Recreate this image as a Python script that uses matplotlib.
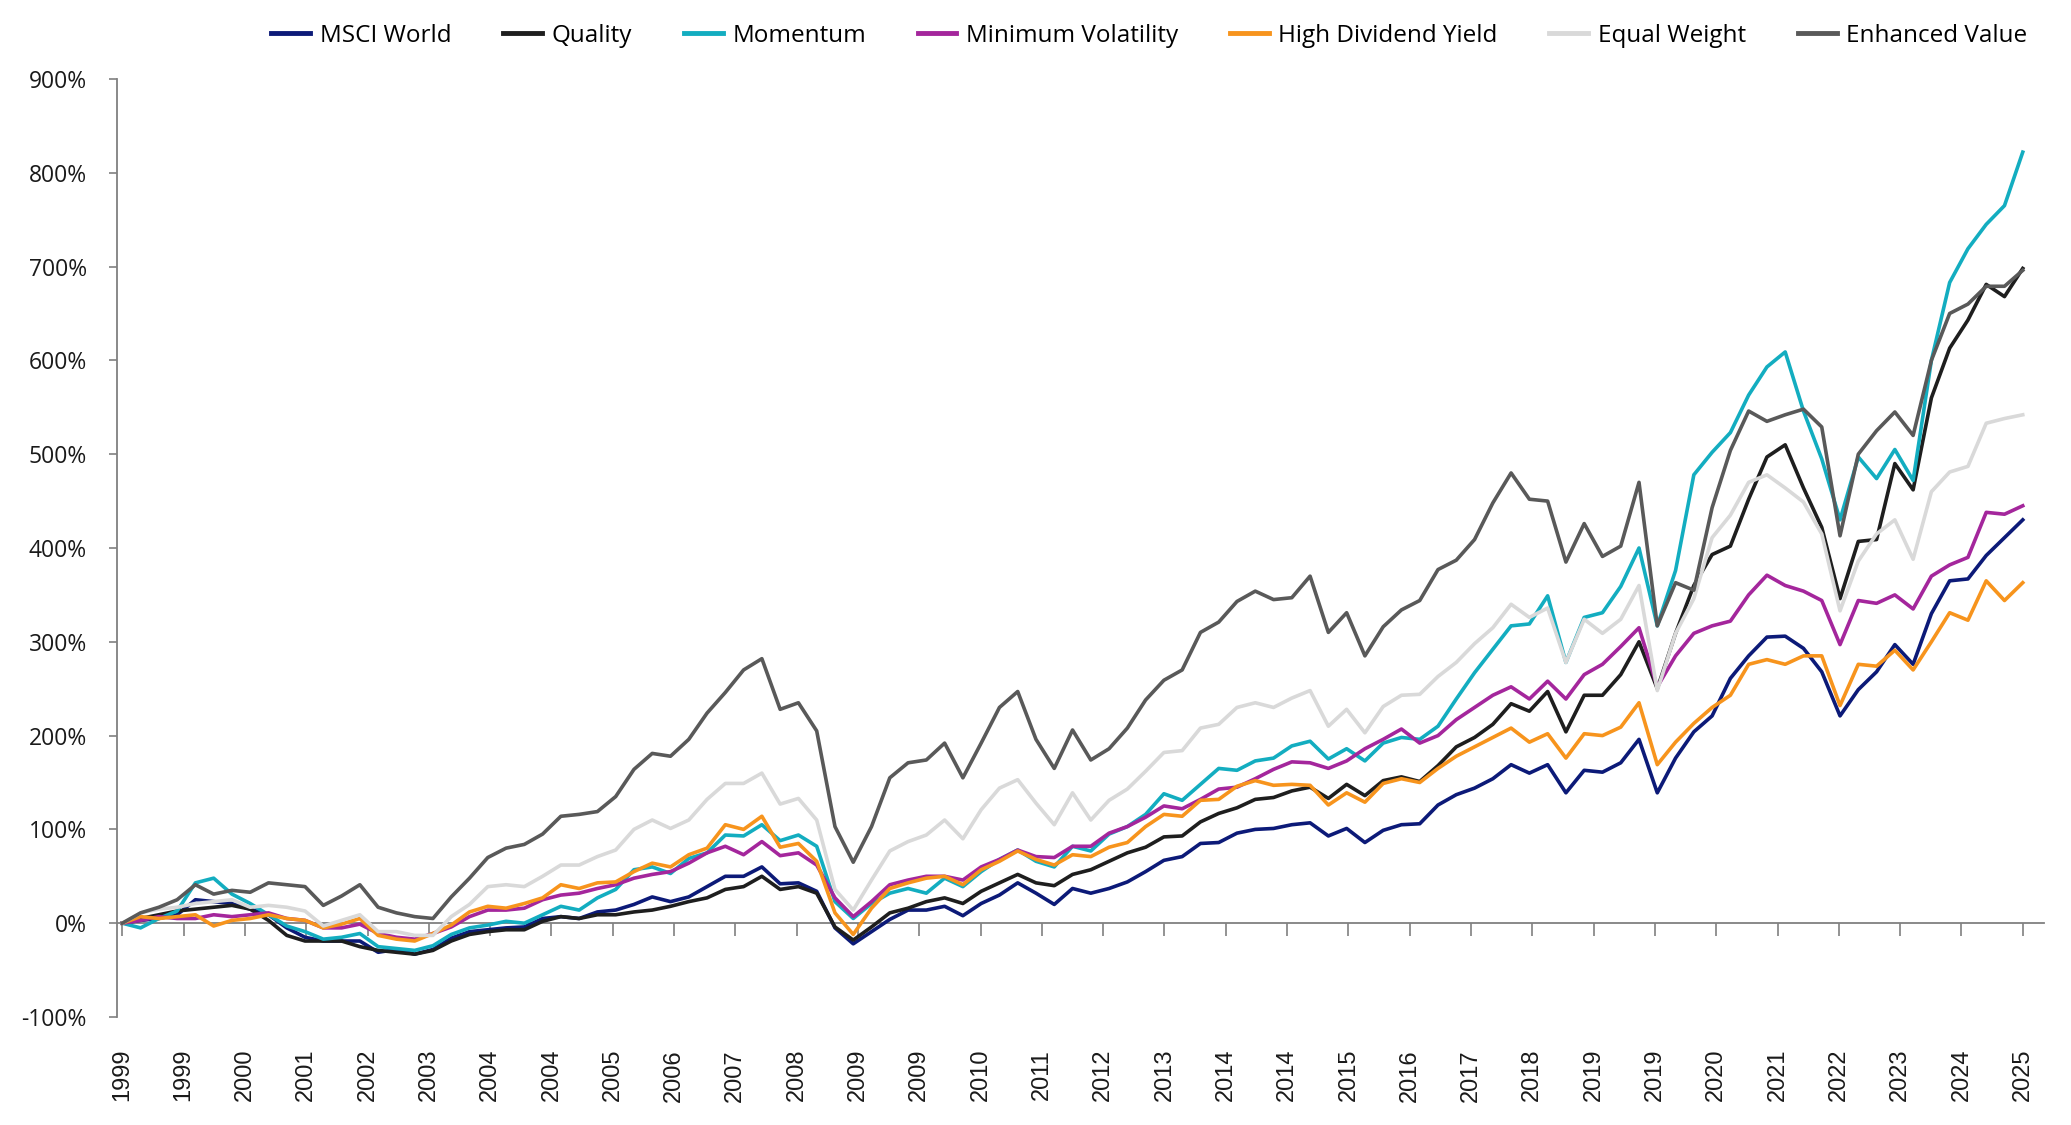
import numpy as np
import matplotlib
matplotlib.use("Agg")
import matplotlib.pyplot as plt
from matplotlib.transforms import blended_transform_factory

# ---------------- data (cumulative return, %, quarterly from Jan 1999 to Jan 2025) ----------------
months = list(range(0, 313, 3))

msci_world = [0, 3, 5, 9, 25, 23, 21, 15, 9, -5, -15, -19, -19, -19, -31, -28, -33, -28, -16, -9,
              -7, -5, -4, 5, 7, 5, 12, 14, 20, 28, 23, 28, 39, 50, 50, 60, 42, 43, 34, -5,
              -22, -9, 4, 14, 14, 18, 8, 21, 30, 43, 32, 20, 37, 32, 37, 44, 55, 67, 71, 85,
              86, 96, 100, 101, 105, 107, 93, 101, 86, 99, 105, 106, 126, 137, 144, 154, 169, 160, 169, 139,
              163, 161, 171, 196, 139, 176, 204, 221, 261, 285, 305, 306, 293, 268, 221, 249, 268, 297, 276, 330,
              365, 367, 392, 411, 430]

quality = [0, 5, 9, 13, 15, 17, 19, 15, 3, -13, -19, -19, -19, -25, -29, -31, -33, -29, -19, -12,
           -9, -7, -7, 2, 7, 5, 9, 9, 12, 14, 18, 23, 27, 36, 39, 50, 36, 39, 32, -4,
           -18, -4, 11, 16, 23, 27, 21, 34, 43, 52, 43, 40, 52, 57, 66, 75, 81, 92, 93, 108,
           117, 123, 132, 134, 141, 145, 133, 148, 136, 152, 156, 151, 168, 188, 198, 212, 234, 226, 247, 204,
           243, 243, 265, 300, 250, 309, 360, 393, 402, 452, 497, 510, 464, 422, 346, 407, 409, 490, 462, 560,
           613, 643, 681, 668, 698]

momentum = [0, -5, 5, 13, 43, 48, 31, 21, 9, -3, -9, -17, -15, -11, -25, -27, -29, -24, -12, -5,
            -2, 2, 0, 9, 18, 14, 27, 36, 57, 60, 53, 69, 75, 94, 93, 105, 88, 94, 82, 23,
            5, 21, 32, 37, 32, 48, 39, 55, 68, 78, 66, 60, 82, 77, 95, 103, 116, 138, 131, 148,
            165, 163, 173, 176, 189, 194, 175, 186, 173, 192, 198, 196, 210, 239, 267, 292, 317, 319, 349, 278,
            326, 331, 359, 400, 317, 376, 478, 502, 523, 563, 593, 609, 546, 495, 430, 497, 474, 505, 472, 600,
            683, 719, 745, 765, 822]

min_volatility = [0, 3, 7, 5, 5, 9, 7, 9, 11, 5, 3, -5, -5, -1, -11, -15, -17, -11, -4, 7,
                  14, 14, 16, 25, 30, 32, 37, 41, 48, 52, 55, 64, 75, 82, 73, 87, 72, 75, 62, 27,
                  7, 23, 41, 46, 50, 50, 46, 60, 68, 78, 71, 70, 82, 82, 96, 103, 113, 125, 122, 132,
                  143, 145, 154, 164, 172, 171, 165, 173, 186, 196, 207, 192, 200, 217, 230, 243, 252, 239, 258, 239,
                  265, 276, 295, 315, 252, 285, 309, 317, 322, 350, 371, 360, 354, 344, 297, 344, 341, 350, 335, 370,
                  382, 390, 438, 436, 445]

high_dividend_yield = [0, 7, 5, 7, 9, -3, 3, 5, 9, 5, 3, -5, -1, 5, -13, -17, -19, -11, -2, 12,
                       18, 16, 21, 27, 41, 37, 43, 44, 55, 64, 60, 73, 80, 105, 100, 114, 81, 85, 66, 11,
                       -12, 16, 37, 43, 48, 50, 41, 57, 66, 77, 68, 62, 73, 71, 81, 86, 103, 116, 114, 131,
                       132, 146, 152, 147, 148, 147, 126, 139, 129, 149, 154, 150, 165, 178, 188, 198, 208, 193, 202, 176,
                       202, 200, 209, 235, 169, 193, 213, 230, 243, 276, 281, 276, 285, 285, 232, 276, 274, 291, 270, 300,
                       331, 323, 365, 344, 363]

equal_weight = [0, 11, 15, 17, 21, 23, 25, 17, 19, 17, 13, -3, 3, 9, -9, -9, -13, -13, 7, 20,
                39, 41, 39, 50, 62, 62, 71, 78, 100, 110, 101, 110, 132, 149, 149, 160, 127, 133, 110, 36,
                14, 46, 77, 87, 94, 110, 90, 121, 144, 153, 128, 105, 139, 110, 131, 143, 162, 182, 184, 208,
                212, 230, 235, 230, 240, 248, 210, 228, 203, 231, 243, 244, 263, 278, 298, 315, 340, 326, 336, 278,
                324, 309, 324, 360, 248, 309, 346, 411, 435, 470, 478, 464, 449, 415, 333, 386, 415, 430, 388, 460,
                481, 487, 533, 538, 542]

enhanced_value = [0, 11, 17, 25, 41, 31, 35, 33, 43, 41, 39, 19, 29, 41, 17, 11, 7, 5, 28, 48,
                  70, 80, 84, 95, 114, 116, 119, 135, 164, 181, 178, 196, 224, 246, 270, 282, 228, 235, 205, 103,
                  65, 103, 155, 171, 174, 192, 155, 192, 230, 247, 196, 165, 206, 174, 186, 208, 238, 259, 270, 310,
                  321, 343, 354, 345, 347, 370, 310, 331, 285, 316, 334, 344, 377, 387, 409, 448, 480, 452, 450, 385,
                  426, 391, 402, 470, 317, 363, 355, 443, 504, 546, 535, 542, 548, 529, 413, 500, 525, 545, 520, 600,
                  650, 660, 679, 679, 696]

series_names = ["MSCI World", "Quality", "Momentum", "Minimum Volatility",
                "High Dividend Yield", "Equal Weight", "Enhanced Value"]
series_values = [msci_world, quality, momentum, min_volatility,
                 high_dividend_yield, equal_weight, enhanced_value]

x_tick_labels = ["1999", "1999", "2000", "2001", "2002", "2003", "2004", "2004", "2005", "2006",
                 "2007", "2008", "2009", "2009", "2010", "2011", "2012", "2013", "2014", "2014",
                 "2015", "2016", "2017", "2018", "2019", "2019", "2020", "2021", "2022", "2023",
                 "2024", "2025"]
y_ticks = [-100, 0, 100, 200, 300, 400, 500, 600, 700, 800, 900]

# ---------------- style ----------------
colors = ["#0c1a78", "#1e1e1e", "#13adc0", "#a4269c", "#f7941d", "#d9d9d9", "#595959"]
axis_gray = "#808080"

plt.rcParams["font.family"] = ["Open Sans", "DejaVu Sans"]

fig = plt.figure(figsize=(20.71, 11.25), dpi=100)
ax = fig.add_axes([0.0567, 0.096, 0.9303, 0.8338])

for name, vals, col in zip(series_names, series_values, colors):
    assert len(vals) == len(months), name
    ax.plot(months, vals, color=col, lw=2.6, label=name, zorder=3, solid_joinstyle="round")

ax.set_xlim(-0.8, 315.5)
ax.set_ylim(-100, 900)

for s in ["top", "right"]:
    ax.spines[s].set_visible(False)
ax.spines["left"].set_color(axis_gray)
ax.spines["left"].set_linewidth(1.3)
ax.spines["bottom"].set_position(("data", 0))
ax.spines["bottom"].set_color(axis_gray)
ax.spines["bottom"].set_linewidth(1.3)
ax.spines["bottom"].set_zorder(2)

ax.set_yticks(y_ticks)
ax.set_yticklabels([f"{v}%" for v in y_ticks])
ax.tick_params(axis="y", direction="out", length=6, width=1.2, color=axis_gray,
               labelsize=16.5, pad=16, labelcolor="#1a1a1a")

tick_pos = np.linspace(months[0], months[-1], len(x_tick_labels))
ax.set_xticks(tick_pos)
ax.tick_params(axis="x", direction="out", length=9, width=1.2, color=axis_gray, labelbottom=False)

trans = blended_transform_factory(ax.transData, ax.transAxes)
for xp, lab in zip(tick_pos, x_tick_labels):
    ax.text(xp, -0.034, lab, transform=trans, rotation=90, ha="center", va="top",
            fontsize=17, family="Liberation Sans", color="#1a1a1a")

handles, labels = ax.get_legend_handles_labels()
leg = fig.legend(handles, labels, loc="center", bbox_to_anchor=(0.555, 0.968), ncol=7,
                 frameon=False, fontsize=17.5, handlelength=1.6, handletextpad=0.4,
                 columnspacing=2.12)
for h in leg.get_lines():
    h.set_linewidth(3.5)

fig.savefig("out.png", dpi=100)
